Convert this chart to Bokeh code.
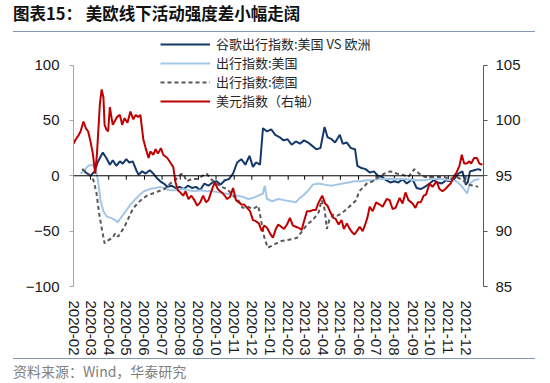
import pandas as pd
from bokeh.plotting import figure
from bokeh.layouts import column
from bokeh.models import (Range1d, LinearAxis, Legend, LegendItem, Span, FixedTicker,
                          DatetimeTickFormatter, Div)
from bokeh.embed import file_html
from bokeh.resources import INLINE

title_text = "图表15：  美欧线下活动强度差小幅走阔"
source_text = "资料来源：Wind，华泰研究"
series_names = ["谷歌出行指数:美国 VS 欧洲", "出行指数:美国", "出行指数:德国", "美元指数（右轴）"]
tick_months = ["2020-02", "2020-03", "2020-04", "2020-05", "2020-06", "2020-07", "2020-08",
               "2020-09", "2020-10", "2020-11", "2020-12", "2021-01", "2021-02", "2021-03",
               "2021-04", "2021-05", "2021-06", "2021-07", "2021-08", "2021-09", "2021-10",
               "2021-11", "2021-12"]
left_ticks = [-100, -50, 0, 50, 100]
right_ticks = [85, 90, 95, 100, 105]

# 谷歌出行指数:美国 VS 欧洲
us_eu_dates = ["2020-02-16", "2020-02-22", "2020-03-01", "2020-03-08", "2020-03-13", "2020-03-22",
               "2020-03-28", "2020-04-03", "2020-04-08", "2020-04-14", "2020-04-20", "2020-04-25",
               "2020-05-01", "2020-05-06", "2020-05-12", "2020-05-18", "2020-05-22", "2020-05-28",
               "2020-06-03", "2020-06-10", "2020-06-16", "2020-06-22", "2020-06-28", "2020-07-04",
               "2020-07-10", "2020-07-17", "2020-07-24", "2020-07-31", "2020-08-07", "2020-08-14",
               "2020-08-21", "2020-08-28", "2020-09-04", "2020-09-11", "2020-09-18", "2020-09-25",
               "2020-10-02", "2020-10-09", "2020-10-16", "2020-10-23", "2020-10-30", "2020-11-06",
               "2020-11-13", "2020-11-20", "2020-11-27", "2020-12-03", "2020-12-08", "2020-12-15",
               "2020-12-20", "2020-12-27", "2021-01-03", "2021-01-10", "2021-01-17", "2021-01-24",
               "2021-01-31", "2021-02-07", "2021-02-14", "2021-02-21", "2021-02-28", "2021-03-07",
               "2021-03-14", "2021-03-21", "2021-03-28", "2021-04-04", "2021-04-09", "2021-04-16",
               "2021-04-22", "2021-04-30", "2021-05-05", "2021-05-12", "2021-05-19", "2021-05-26",
               "2021-05-30", "2021-06-06", "2021-06-13", "2021-06-20", "2021-06-27", "2021-07-04",
               "2021-07-11", "2021-07-18", "2021-07-25", "2021-08-01", "2021-08-08", "2021-08-15",
               "2021-08-22", "2021-09-01", "2021-09-08", "2021-09-15", "2021-09-22", "2021-09-30",
               "2021-10-07", "2021-10-14", "2021-10-21", "2021-10-28", "2021-11-04", "2021-11-11",
               "2021-11-18", "2021-11-25", "2021-12-01", "2021-12-04", "2021-12-08", "2021-12-15",
               "2021-12-22", "2021-12-27"]
us_eu_vals = [6, 3, 0, 4, 12, 21, 16, 10, 14, 9, 13, 11, 15, 12, 13, 5, 1, 4, 2, 5, 2, -2, -5, -7,
              -10, -9, -11, -10, -12, -9, -11, -10, -13, -7, -9, -6, -5, -8, -4, -3, 2, 12, 15, 10,
              18, 8, 12, 10, 43, 40, 42, 37, 35, 32, 33, 28, 31, 29, 32, 30, 27, 24, 25, 44, 35,
              33, 30, 37, 29, 30, 25, 24, 9, 7, 6, 3, 4, 0, -1, -4, -6, -5, -6, -3, -7, -3, -11,
              -12, -10, -7, -4, -6, -7, -4, -5, -3, 2, 4, -8, -6, 4, 5, 6, 5]

# 出行指数:美国
us_dates = ["2020-02-13", "2020-02-20", "2020-02-26", "2020-03-04", "2020-03-10", "2020-03-14",
            "2020-03-18", "2020-03-23", "2020-03-29", "2020-04-05", "2020-04-12", "2020-04-16",
            "2020-04-23", "2020-04-30", "2020-05-08", "2020-05-15", "2020-05-22", "2020-05-31",
            "2020-06-10", "2020-06-20", "2020-06-28", "2020-07-07", "2020-07-15", "2020-07-25",
            "2020-08-05", "2020-08-15", "2020-08-25", "2020-09-05", "2020-09-15", "2020-09-26",
            "2020-10-06", "2020-10-16", "2020-10-26", "2020-11-06", "2020-11-16", "2020-11-25",
            "2020-12-03", "2020-12-12", "2020-12-20", "2020-12-23", "2020-12-27", "2021-01-05",
            "2021-01-15", "2021-01-25", "2021-02-04", "2021-02-14", "2021-02-21", "2021-02-26",
            "2021-03-06", "2021-03-15", "2021-03-25", "2021-04-04", "2021-04-15", "2021-04-25",
            "2021-05-05", "2021-05-15", "2021-05-25", "2021-06-05", "2021-06-15", "2021-06-25",
            "2021-07-05", "2021-07-20", "2021-08-05", "2021-08-20", "2021-09-05", "2021-09-20",
            "2021-10-05", "2021-10-20", "2021-11-05", "2021-11-15", "2021-11-25", "2021-12-03",
            "2021-12-08", "2021-12-15", "2021-12-24"]
us_vals = [2, 5, 9, 10, 6, -5, -22, -32, -37, -38, -40, -42, -37, -32, -26, -22, -18, -14, -12,
           -11, -10, -12, -13, -13, -12, -13, -14, -13, -14, -14, -15, -16, -17, -18, -19, -21,
           -20, -18, -16, -9, -21, -23, -21, -22, -23, -24, -20, -18, -14, -8, -7, -8, -9, -8,
           -7, -6, -5, -5, -4, -4, -3, -3, -3, -3, -4, -4, -3, -3, -4, -5, -10, -16, -7, -4, -3]

# 出行指数:德国
de_dates = ["2020-02-16", "2020-02-23", "2020-03-01", "2020-03-06", "2020-03-11", "2020-03-16",
            "2020-03-21", "2020-03-25", "2020-04-01", "2020-04-08", "2020-04-12", "2020-04-17",
            "2020-04-22", "2020-04-28", "2020-05-05", "2020-05-12", "2020-05-20", "2020-05-28",
            "2020-06-05", "2020-06-15", "2020-06-25", "2020-07-05", "2020-07-15", "2020-07-25",
            "2020-08-01", "2020-08-06", "2020-08-12", "2020-08-20", "2020-08-30", "2020-09-08",
            "2020-09-15", "2020-09-22", "2020-09-30", "2020-10-10", "2020-10-20", "2020-10-30",
            "2020-11-08", "2020-11-15", "2020-11-25", "2020-12-03", "2020-12-12", "2020-12-16",
            "2020-12-22", "2020-12-28", "2021-01-05", "2021-01-12", "2021-01-20", "2021-01-30",
            "2021-02-10", "2021-02-16", "2021-02-25", "2021-03-05", "2021-03-15", "2021-03-25",
            "2021-03-30", "2021-04-04", "2021-04-08", "2021-04-12", "2021-04-19", "2021-04-26",
            "2021-05-03", "2021-05-12", "2021-05-20", "2021-05-28", "2021-06-02", "2021-06-08",
            "2021-06-15", "2021-06-25", "2021-07-05", "2021-07-15", "2021-07-25", "2021-08-05",
            "2021-08-15", "2021-08-25", "2021-09-04", "2021-09-12", "2021-09-22", "2021-10-01",
            "2021-10-12", "2021-10-25", "2021-11-03", "2021-11-15", "2021-11-25", "2021-12-05",
            "2021-12-15", "2021-12-22"]
de_vals = [6, 3, 0, -4, -15, -35, -50, -61, -58, -56, -52, -55, -51, -46, -38, -30, -25, -21,
           -18, -16, -14, -12, -7, -3, 1, 2, -5, -3, -3, 0, 2, -3, -6, -10, -12, -18, -22, -29,
           -28, -30, -27, -38, -55, -65, -63, -61, -59, -58, -57, -56, -50, -44, -40, -33, -22,
           -30, -48, -40, -35, -36, -34, -30, -26, -22, -14, -11, -7, -5, -1, 2, 4, 2, 1, -1, 6,
           2, -1, -1, -1, -1, -3, -1, -4, -8, -9, -10]

# 美元指数（右轴）
usd_dates = ["2020-02-01", "2020-02-05", "2020-02-09", "2020-02-13", "2020-02-18", "2020-02-22",
             "2020-02-26", "2020-03-01", "2020-03-05", "2020-03-09", "2020-03-12", "2020-03-14",
             "2020-03-17", "2020-03-20", "2020-03-23", "2020-03-25", "2020-03-28", "2020-03-31",
             "2020-04-03", "2020-04-06", "2020-04-08", "2020-04-12", "2020-04-15", "2020-04-20",
             "2020-04-24", "2020-04-28", "2020-05-03", "2020-05-08", "2020-05-13", "2020-05-17",
             "2020-05-21", "2020-05-25", "2020-05-30", "2020-06-03", "2020-06-08", "2020-06-11",
             "2020-06-16", "2020-06-20", "2020-06-24", "2020-06-29", "2020-07-03", "2020-07-10",
             "2020-07-15", "2020-07-20", "2020-07-24", "2020-07-28", "2020-08-01", "2020-08-06",
             "2020-08-10", "2020-08-15", "2020-08-20", "2020-08-25", "2020-08-30", "2020-09-04",
             "2020-09-09", "2020-09-14", "2020-09-18", "2020-09-25", "2020-09-29", "2020-10-04",
             "2020-10-08", "2020-10-13", "2020-10-20", "2020-10-25", "2020-10-30", "2020-11-04",
             "2020-11-09", "2020-11-13", "2020-11-18", "2020-11-23", "2020-11-28", "2020-12-03",
             "2020-12-08", "2020-12-13", "2020-12-18", "2020-12-22", "2020-12-27", "2021-01-01",
             "2021-01-06", "2021-01-11", "2021-01-15", "2021-01-20", "2021-01-25", "2021-01-30",
             "2021-02-04", "2021-02-09", "2021-02-14", "2021-02-19", "2021-02-24", "2021-02-28",
             "2021-03-05", "2021-03-10", "2021-03-15", "2021-03-20", "2021-03-25", "2021-03-31",
             "2021-04-05", "2021-04-09", "2021-04-14", "2021-04-19", "2021-04-23", "2021-04-28",
             "2021-05-03", "2021-05-07", "2021-05-12", "2021-05-17", "2021-05-21", "2021-05-25",
             "2021-05-29", "2021-06-03", "2021-06-08", "2021-06-11", "2021-06-16", "2021-06-20",
             "2021-06-25", "2021-07-01", "2021-07-07", "2021-07-12", "2021-07-19", "2021-07-24",
             "2021-07-29", "2021-08-03", "2021-08-10", "2021-08-15", "2021-08-20", "2021-08-25",
             "2021-09-01", "2021-09-06", "2021-09-10", "2021-09-15", "2021-09-20", "2021-09-24",
             "2021-09-30", "2021-10-05", "2021-10-12", "2021-10-17", "2021-10-22", "2021-10-27",
             "2021-11-01", "2021-11-05", "2021-11-10", "2021-11-15", "2021-11-20", "2021-11-24",
             "2021-11-28", "2021-12-02", "2021-12-07", "2021-12-10", "2021-12-15", "2021-12-20",
             "2021-12-24", "2021-12-29"]
usd_vals = [97.9, 98.3, 98.6, 99.0, 99.9, 99.3, 99.0, 98.1, 97.0, 95.2, 97.0, 98.8, 101.5, 102.8,
            102.1, 99.6, 99.2, 99.0, 101.2, 100.2, 99.6, 100.0, 100.3, 100.5, 99.6, 100.2, 99.8,
            100.8, 100.1, 100.5, 100.3, 100.5, 98.3, 97.5, 96.6, 97.2, 96.9, 97.4, 97.0, 97.5,
            96.9, 96.6, 96.2, 95.8, 94.4, 93.7, 93.5, 93.2, 93.6, 92.9, 93.2, 92.8, 92.3, 92.6,
            93.2, 92.6, 92.8, 93.9, 94.4, 93.8, 93.6, 93.4, 92.9, 93.1, 93.9, 92.8, 92.6, 92.4,
            92.4, 92.1, 91.8, 91.0, 90.9, 90.7, 90.0, 90.5, 90.3, 89.8, 89.4, 90.2, 90.6, 90.4,
            90.2, 90.6, 91.2, 90.5, 90.4, 90.3, 90.1, 90.9, 91.8, 91.8, 91.9, 91.9, 92.6, 93.2,
            92.5, 92.3, 91.7, 91.2, 91.1, 90.6, 91.0, 90.2, 90.7, 90.2, 89.9, 89.7, 90.0, 90.4,
            90.0, 90.4, 91.2, 92.2, 91.8, 92.6, 92.4, 92.2, 92.9, 92.8, 92.0, 92.1, 93.0, 92.5,
            93.5, 92.8, 92.5, 92.1, 92.6, 92.6, 93.2, 93.3, 94.3, 94.0, 94.5, 93.8, 93.6, 93.8,
            94.1, 94.3, 94.9, 95.3, 95.9, 96.9, 96.1, 96.1, 96.3, 96.1, 96.6, 96.6, 96.1, 96.0]

FONT = "Liberation Sans"
CJK = "Noto Sans CJK SC"

# frame extends ~31px above the 100 tick so the legend sits inside it
p = figure(width=550, height=324, x_axis_type="datetime", output_backend="svg",
           toolbar_location=None, min_border_left=73, min_border_right=67,
           min_border_top=0, min_border_bottom=68, margin=0,
           x_range=Range1d(pd.Timestamp("2020-02-01"), pd.Timestamp("2021-12-31")),
           y_range=Range1d(-100, 127.6))
p.outline_line_color = None
p.xgrid.visible = False
p.ygrid.visible = False
p.background_fill_color = "white"
p.border_fill_color = "white"
p.extra_y_ranges = {"usd": Range1d(85, 107.76)}

# x axis
tick_ts = [pd.Timestamp(m + "-01") for m in tick_months]
xa = p.xaxis[0]
xa.ticker = FixedTicker(ticks=[t.value // 10**6 for t in tick_ts])
fmt = "%Y-%m"
xa.formatter = DatetimeTickFormatter(days=fmt, months=fmt, years=fmt, hours=fmt,
                                     minutes=fmt, seconds=fmt, milliseconds=fmt,
                                     microseconds=fmt, minsec=fmt, hourmin=fmt)
xa.major_label_orientation = "vertical"
xa.axis_line_color = None
xa.major_tick_line_color = None
xa.minor_tick_line_color = None
xa.major_label_standoff = 8
xa.major_label_text_font = FONT
xa.major_label_text_font_size = "15px"
xa.major_label_text_color = "#1a1a1a"

# left axis
ya = p.yaxis[0]
ya.ticker = FixedTicker(ticks=left_ticks)
ya.bounds = (-100, 100)
ya.axis_line_color = "#a6a6a6"
ya.major_tick_line_color = "#a6a6a6"
ya.major_tick_out = 4
ya.major_tick_in = 0
ya.minor_tick_line_color = None
ya.major_label_standoff = 10
ya.major_label_text_font = FONT
ya.major_label_text_font_size = "15px"
ya.major_label_text_color = "#1a1a1a"

# right axis
ra = LinearAxis(y_range_name="usd", ticker=FixedTicker(ticks=right_ticks), bounds=(85, 105))
ra.axis_line_color = "#595959"
ra.major_tick_line_color = "#595959"
ra.major_tick_out = 4
ra.major_tick_in = 0
ra.minor_tick_line_color = None
ra.major_label_standoff = 8
ra.major_label_text_font = FONT
ra.major_label_text_font_size = "15px"
ra.major_label_text_color = "#1a1a1a"
p.add_layout(ra, "right")

# zero line with month ticks
p.add_layout(Span(location=0, dimension="width", line_color="black", line_width=1))
p.segment(x0=tick_ts, y0=[0] * len(tick_ts), x1=tick_ts, y1=[-3.5] * len(tick_ts),
          line_color="black", line_width=1)

r_useu = p.line(pd.to_datetime(us_eu_dates), us_eu_vals, line_color="#14386b", line_width=2)
r_us = p.line(pd.to_datetime(us_dates), us_vals, line_color="#a4c6e6", line_width=2)
r_de = p.line(pd.to_datetime(de_dates), de_vals, line_color="#595959", line_width=2,
              line_dash="4 3")
r_usd = p.line(pd.to_datetime(usd_dates), usd_vals, line_color="#c00000", line_width=2,
               y_range_name="usd")

legend = Legend(items=[LegendItem(label=series_names[0], renderers=[r_useu]),
                       LegendItem(label=series_names[1], renderers=[r_us]),
                       LegendItem(label=series_names[2], renderers=[r_de]),
                       LegendItem(label=series_names[3], renderers=[r_usd])],
                location=(87, 176), glyph_width=50, glyph_height=18, label_height=18,
                spacing=0, padding=0, margin=0, label_standoff=6,
                background_fill_alpha=0, border_line_alpha=0,
                label_text_font=CJK, label_text_font_size="13px",
                label_text_color="#262626")
p.add_layout(legend)

title_div = Div(
    text=('<div style="position:relative;width:522px;height:32px;margin-left:13px;'
          'border-bottom:1.5px solid #8497b0;">'
          '<span style="position:absolute;left:0;top:4px;white-space:nowrap;'
          "font-family:'Noto Sans CJK SC';font-weight:bold;font-size:16.5px;line-height:18px;"
          'color:#111111;">' + title_text + '</span></div>'),
    width=550, height=34, margin=0)

source_div = Div(
    text=('<div style="position:relative;width:522px;height:23px;margin-left:13px;'
          'border-top:1.5px solid #8497b0;">'
          '<span style="position:absolute;left:0;top:5px;white-space:nowrap;'
          "font-family:'Noto Sans CJK SC';font-size:14px;line-height:15px;"
          'color:#808080;">' + source_text + '</span></div>'),
    width=550, height=25, margin=0)

layout = column(title_div, p, source_div, spacing=0)

open("out.html", "w").write(file_html(layout, INLINE))
